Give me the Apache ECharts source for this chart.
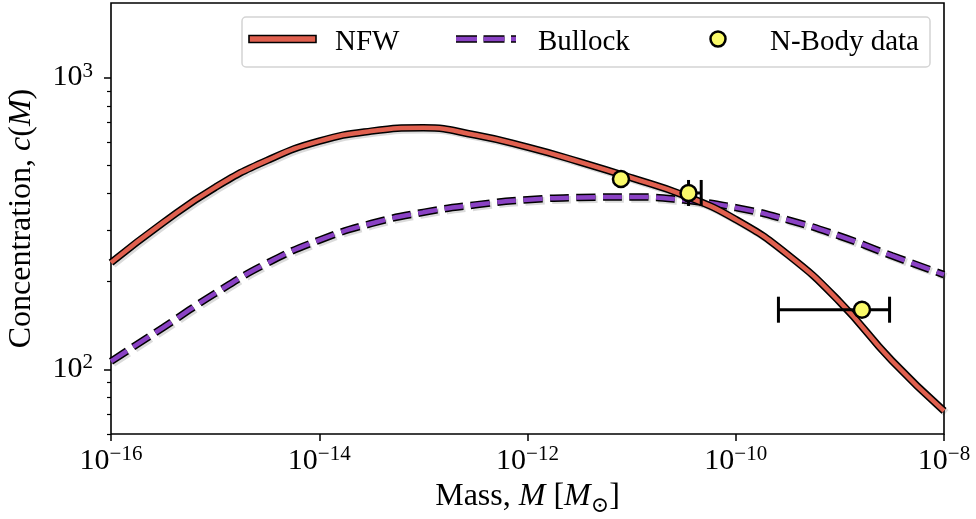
<!DOCTYPE html>
<html>
<head>
<meta charset="utf-8">
<script src="https://cdn.jsdelivr.net/npm/echarts@6/dist/echarts.min.js"></script>
<style>
  html, body { margin: 0; padding: 0; background: #ffffff; }
  #chart { width: 976px; height: 519px; }
</style>
</head>
<body>
<div id="chart"></div>
<script>
// Halo mass samples, as log10(M / M_sun)
const massExponents = [-16, -15.5, -15, -14.5, -14, -13.5, -13, -12.5, -12, -11.5, -11, -10.5, -10, -9.5, -9, -8.5, -8];
// Concentration c(M) of each model at those masses
const nfwConcentration = [232, 318, 420, 520, 605, 655, 672, 635, 577, 514, 453, 395, 326, 247, 170, 107, 72];
const bullockConcentration = [106.5, 139, 182, 231, 277, 316, 345, 366, 381, 388, 389.5, 380, 358, 325, 286, 245, 211];

// N-body measurements with horizontal (mass) error ranges
const nbodyMass = [7.9e-12, 3.52e-11, 1.63e-9];
const nbodyConcentration = [449, 402, 160];
const nbodyMassLow = [null, 3.52e-11, 2.57e-10];
const nbodyMassHigh = [null, 4.66e-11, 3.0e-9];

// Axis ticks
const xTickValues = [1e-16, 1e-14, 1e-12, 1e-10, 1e-8];
const yTickValues = [100, 1000];
const yMinorTickValues = [60, 70, 80, 90, 200, 300, 400, 500, 600, 700, 800, 900];

const SERIF = '"Liberation Serif", "DejaVu Serif", serif';
const RED = '#e0604f';
const PURPLE = '#8a42c4';
const YELLOW = '#fafa6a';
const DASH = [19, 7.5];

const toPairs = (vals) => massExponents.map((e, i) => [Math.pow(10, e), vals[i]]);
const nfwData = toPairs(nfwConcentration);
const bullockData = toPairs(bullockConcentration);
const scatterData = nbodyMass.map((m, i) => [m, nbodyConcentration[i]]);
const errorData = nbodyMass
  .map((m, i) => [m, nbodyConcentration[i], nbodyMassLow[i], nbodyMassHigh[i]])
  .filter(d => d[2] !== null);

// "10^n" tick labels with a raised exponent
function powerLabel(value) {
  const exp = Math.round(Math.log10(value));
  const txt = exp < 0 ? '\u2212' + Math.abs(exp) : String(exp);
  return '{b|10}{s|' + txt + '}';
}
const powerRich = {
  b: { fontSize: 30, fontFamily: SERIF, color: '#000', lineHeight: 34 },
  s: { fontSize: 21, fontFamily: SERIF, color: '#000', lineHeight: 21, verticalAlign: 'top' }
};
const nameRich = {
  r: { fontSize: 32, fontFamily: SERIF, color: '#000', lineHeight: 40 },
  i: { fontSize: 32, fontFamily: SERIF, fontStyle: 'italic', color: '#000', lineHeight: 40 },
  sub: { fontSize: 22, fontFamily: SERIF, color: '#000', lineHeight: 22, verticalAlign: 'bottom' }
};

const lineShadow = { shadowColor: 'rgba(0,0,0,0.14)', shadowOffsetX: 2, shadowOffsetY: 2, shadowBlur: 0 };
const SMOOTH = 0.5;

const chart = echarts.init(document.getElementById('chart'), null, { renderer: 'canvas' });

chart.setOption({
  animation: false,
  backgroundColor: '#ffffff',
  grid: {
    left: 111, right: 32, top: 3, bottom: 85,
    show: true, borderColor: '#000', borderWidth: 1.6, backgroundColor: 'transparent',
    outerBoundsMode: 'none'
  },
  xAxis: [{
    type: 'log', logBase: 10, min: 1e-16, max: 1e-8,
    position: 'bottom',
    axisLine: { show: false },
    splitLine: { show: false },
    minorTick: { show: false },
    axisTick: { show: true, inside: false, length: 7, customValues: xTickValues, lineStyle: { color: '#000', width: 1.5 } },
    axisLabel: { customValues: xTickValues, margin: 10, formatter: powerLabel, rich: powerRich },
    name: '{r|Mass, }{i|M}{r| [}{i|M}{sub|\u2299}{r|]}',
    nameLocation: 'middle', nameGap: 42,
    nameTextStyle: { rich: nameRich }
  }],
  yAxis: [{
    type: 'log', logBase: 10, min: 60, max: 1800,
    position: 'left',
    axisLine: { show: false },
    splitLine: { show: false },
    minorTick: { show: false },
    axisTick: { show: true, inside: false, length: 7, customValues: yTickValues, lineStyle: { color: '#000', width: 1.5 } },
    axisLabel: { customValues: yTickValues, margin: 18, formatter: powerLabel, rich: powerRich },
    name: '{r|Concentration, }{i|c}{r|(}{i|M}{r|)}',
    nameLocation: 'middle', nameGap: 69,
    nameTextStyle: { rich: nameRich }
  }, {
    // minor ticks between the decades
    type: 'log', logBase: 10, min: 60, max: 1800,
    position: 'left',
    axisLine: { show: false },
    splitLine: { show: false },
    axisLabel: { show: false },
    axisTick: { show: true, inside: false, length: 4, customValues: yMinorTickValues, lineStyle: { color: '#000', width: 1.2 } }
  }],
  series: [
    {
      name: 'Bullock', type: 'line', data: bullockData, showSymbol: false, smooth: SMOOTH,
      silent: true, z: 2,
      lineStyle: Object.assign({ color: '#000', width: 7.5, type: DASH, cap: 'butt' }, lineShadow)
    },
    {
      name: 'Bullock', type: 'line', data: bullockData, showSymbol: false, smooth: SMOOTH,
      silent: true, z: 3,
      lineStyle: { color: PURPLE, width: 4.5, type: DASH, cap: 'butt' }
    },
    {
      name: 'NFW', type: 'line', data: nfwData, showSymbol: false, smooth: SMOOTH,
      silent: true, z: 4,
      lineStyle: Object.assign({ color: '#000', width: 7.5, type: 'solid' }, lineShadow)
    },
    {
      name: 'NFW', type: 'line', data: nfwData, showSymbol: false, smooth: SMOOTH,
      silent: true, z: 5,
      lineStyle: { color: RED, width: 4.5, type: 'solid' }
    },
    {
      name: 'N-Body error', type: 'custom', data: errorData, z: 6, silent: true,
      encode: { x: 0, y: 1 },
      renderItem: function (params, api) {
        const y = api.value(1);
        const p0 = api.coord([api.value(2), y]);
        const p1 = api.coord([api.value(3), y]);
        const cap = 13;
        const st = { stroke: '#000', lineWidth: 3 };
        return {
          type: 'group',
          children: [
            { type: 'line', shape: { x1: p0[0], y1: p0[1], x2: p1[0], y2: p1[1] }, style: st },
            { type: 'line', shape: { x1: p0[0], y1: p0[1] - cap, x2: p0[0], y2: p0[1] + cap }, style: st },
            { type: 'line', shape: { x1: p1[0], y1: p1[1] - cap, x2: p1[0], y2: p1[1] + cap }, style: st }
          ]
        };
      }
    },
    {
      name: 'N-Body data', type: 'scatter', data: scatterData, z: 7, silent: true,
      symbol: 'circle', symbolSize: 16,
      itemStyle: { color: YELLOW, borderColor: '#000', borderWidth: 2.5, opacity: 1 }
    }
  ],
  graphic: [
    {
      type: 'rect', z: 100,
      shape: { x: 242, y: 17, width: 688, height: 50, r: 4 },
      style: { fill: 'rgba(255,255,255,0.85)', stroke: '#d4d4d4', lineWidth: 1.5 }
    },
    // NFW key
    {
      type: 'rect', z: 101,
      shape: { x: 249, y: 35.5, width: 67, height: 7 },
      style: { fill: RED, stroke: '#000', lineWidth: 1.6 }
    },
    {
      type: 'text', z: 101, x: 335, y: 42,
      style: { text: 'NFW', fill: '#000', fontSize: 29, fontFamily: SERIF, align: 'left', verticalAlign: 'middle' }
    },
    // Bullock key
    {
      type: 'line', z: 101,
      shape: { x1: 456, y1: 39, x2: 516, y2: 39 },
      style: { stroke: '#000', lineWidth: 7.5, lineDash: [21, 6.5], lineCap: 'butt' }
    },
    {
      type: 'line', z: 102,
      shape: { x1: 456, y1: 39, x2: 516, y2: 39 },
      style: { stroke: PURPLE, lineWidth: 4.5, lineDash: [21, 6.5], lineCap: 'butt' }
    },
    {
      type: 'text', z: 101, x: 538, y: 42,
      style: { text: 'Bullock', fill: '#000', fontSize: 29, fontFamily: SERIF, align: 'left', verticalAlign: 'middle' }
    },
    // N-body key
    {
      type: 'circle', z: 101,
      shape: { cx: 718, cy: 39, r: 7.5 },
      style: { fill: YELLOW, stroke: '#000', lineWidth: 2.5 }
    },
    {
      type: 'text', z: 101, x: 770, y: 42,
      style: { text: 'N-Body data', fill: '#000', fontSize: 29, fontFamily: SERIF, align: 'left', verticalAlign: 'middle' }
    }
  ]
});
</script>
</body>
</html>
